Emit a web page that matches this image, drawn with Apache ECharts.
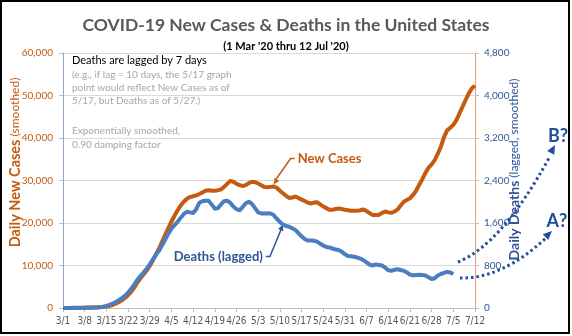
<!DOCTYPE html>
<html><head><meta charset="utf-8">
<script src="https://cdn.jsdelivr.net/npm/echarts@6/dist/echarts.min.js"></script>
<style>html,body{margin:0;padding:0;background:#fff}#c{width:572px;height:336px}</style>
</head><body><div id="c"></div>
<script>
// Day labels 3/1 .. 7/12
const monthDays = [[3, 31], [4, 30], [5, 31], [6, 30], [7, 12]];
const dates = [];
monthDays.forEach(([m, n]) => { for (let d = 1; d <= n; d++) dates.push(m + '/' + d); });

// Daily new cases (exponentially smoothed)
const newCases = [
  10, 15, 20, 30, 40, 55, 70, 90, 110, 140,
  170, 200, 230, 260, 330, 480, 700, 1000, 1350, 1800,
  2350, 3000, 3800, 4800, 6000, 7000, 7900, 8800, 9900, 11200,
  12600, 14000, 15600, 17200, 18800, 20300, 21700, 23000, 24100, 25000,
  25700, 26100, 26300, 26500, 26800, 27200, 27600, 27700, 27600, 27600,
  27700, 27900, 28500, 29200, 29900, 29700, 29200, 28900, 28700, 28900,
  29400, 29700, 29600, 29300, 28900, 28500, 28400, 28500, 28600, 28300,
  27600, 27000, 26400, 25900, 26000, 26200, 25900, 25500, 25200, 24800,
  24600, 24800, 24900, 24400, 23900, 23500, 23100, 23100, 23300, 23400,
  23300, 23100, 23000, 22900, 22900, 22900, 23000, 23200, 22800, 22300,
  21900, 21900, 21900, 22400, 22700, 22500, 22400, 22700, 23200, 24100,
  25000, 25400, 25800, 26600, 27600, 29000, 30300, 31800, 33000, 33800,
  34800, 36300, 38000, 40200, 41800, 42400, 43100, 44200, 45800, 47400,
  49000, 50500, 51700, 52300
];

// Daily deaths, lagged by 7 days (exponentially smoothed)
const deathsLagged = [
  0, 0, 0, 1, 1, 1, 2, 2, 3, 4,
  5, 8, 14, 24, 40, 60, 85, 112, 145, 185,
  230, 290, 360, 440, 530, 600, 670, 740, 820, 910,
  1000, 1080, 1180, 1290, 1400, 1490, 1560, 1620, 1700, 1770,
  1810, 1800, 1790, 1860, 1980, 2010, 2020, 2020, 1950, 1870,
  1880, 1950, 2010, 2020, 1980, 1910, 1860, 1840, 1900, 1970,
  2000, 1960, 1880, 1800, 1780, 1780, 1785, 1780, 1750, 1680,
  1620, 1570, 1545, 1530, 1500, 1470, 1410, 1350, 1300, 1270,
  1270, 1265, 1250, 1210, 1175, 1150, 1140, 1120, 1100, 1090,
  1060, 1010, 980, 975, 965, 950, 930, 900, 860, 815,
  800, 820, 810, 800, 760, 710, 700, 720, 730, 715,
  700, 670, 630, 615, 620, 625, 620, 610, 580, 545,
  560, 610, 640, 660, 680, 670, 640
];

const casesAxis = { min: 0, max: 60000, interval: 10000 };
const deathsAxis = { min: 0, max: 4800, interval: 800 };

const noteLines = [
  '(e.g., if lag = 10 days, the 5/17 graph',
  'point would reflect New Cases as of',
  '5/17, but Deaths as of 5/27.)'
];
const smoothLines = ['Exponentially smoothed,', '0.90 damping factor'];

const FONT = 'Lato, "Noto Sans", sans-serif';
const NARROW = '"Liberation Sans Narrow", "DejaVu Sans Condensed", "Liberation Sans", sans-serif';
const ORANGE = '#C55A11';
const BLUE = '#4A7EBF';
const NAVY = '#2F5597';
const DOT = '#1F4E99';
const fmt = v => v.toLocaleString('en-US');

const chart = echarts.init(document.getElementById('c'), null, { renderer: 'canvas' });

const option = {
  animation: false,
  backgroundColor: '#fff',
  textStyle: { fontFamily: FONT },
  title: [
    { text: 'COVID-19 New Cases & Deaths in the United States', left: 'center', top: 11,
      textStyle: { fontFamily: FONT, fontSize: 17.5, fontWeight: 'bold', color: '#595959' } },
    { text: "(1 Mar '20 thru 12 Jul '20)", left: 'center', top: 36,
      textStyle: { fontFamily: FONT, fontSize: 11, fontWeight: 'bold', color: '#000' } }
  ],
  grid: { left: 63, right: 97, top: 53, bottom: 28, containLabel: false, outerBoundsMode: 'none' },
  xAxis: {
    type: 'category', data: dates, boundaryGap: false,
    axisLine: { lineStyle: { color: '#BFBFBF', width: 1 } },
    axisTick: { show: true, interval: 6, length: 4, lineStyle: { color: '#BFBFBF' } },
    axisLabel: { interval: 6, color: '#595959', fontSize: 10, margin: 8, fontFamily: NARROW, hideOverlap: false },
    splitLine: { show: false }
  },
  yAxis: [
    {
      type: 'value', position: 'left', ...casesAxis,
      name: '{b|Daily New Cases} {n|(smoothed)}',
      nameLocation: 'middle', nameGap: 40, nameRotate: 90, nameMoveOverlap: false,
      nameTextStyle: { padding: [0, 0, 0, 36], rich: {
        b: { fontFamily: FONT, fontSize: 14.5, fontWeight: 'bold', color: ORANGE },
        n: { fontFamily: FONT, fontSize: 12, color: ORANGE } } },
      axisLine: { show: true, lineStyle: { color: '#8EA6CF', width: 1 } },
      axisTick: { show: true, length: 4, lineStyle: { color: '#BFBFBF' } },
      axisLabel: { color: ORANGE, fontSize: 10, margin: 10, formatter: fmt, fontFamily: FONT },
      splitLine: { show: true, lineStyle: { color: '#D9D9D9', width: 1 } }
    },
    {
      type: 'value', position: 'right', ...deathsAxis,
      name: '{b|Daily Deaths} {n|(lagged, smoothed)}',
      nameLocation: 'middle', nameGap: 32, nameRotate: 90, nameMoveOverlap: false,
      nameTextStyle: { padding: [0, 0, 0, 22], rich: {
        b: { fontFamily: FONT, fontSize: 14, fontWeight: 'bold', color: NAVY },
        n: { fontFamily: FONT, fontSize: 12, color: NAVY } } },
      axisLine: { show: true, lineStyle: { color: '#E8A272', width: 1 } },
      axisTick: { show: true, length: 4, lineStyle: { color: '#BFBFBF' } },
      axisLabel: { color: NAVY, fontSize: 10, margin: 9, formatter: fmt, fontFamily: FONT },
      splitLine: { show: false }
    }
  ],
  series: [
    { name: 'New Cases', type: 'line', yAxisIndex: 0, data: newCases, showSymbol: false,
      lineStyle: { color: ORANGE, width: 4, join: 'round' }, itemStyle: { color: ORANGE } },
    { name: 'Deaths (lagged)', type: 'line', yAxisIndex: 1, data: deathsLagged, showSymbol: false,
      lineStyle: { color: BLUE, width: 4, join: 'round' }, itemStyle: { color: BLUE } }
  ]
};
chart.setOption(option);

// Arrowhead triangle at (tx, ty) pointing along angle a
function head(tx, ty, a, len, w, color) {
  const bx = tx - Math.cos(a) * len, by = ty - Math.sin(a) * len;
  const nx = -Math.sin(a) * w, ny = Math.cos(a) * w;
  return { type: 'polygon', shape: { points: [[tx, ty], [bx + nx, by + ny], [bx - nx, by - ny]] },
           style: { fill: color } };
}

// Callout tips sit on the curves
const caseTip = chart.convertToPixel({ xAxisIndex: 0, yAxisIndex: 0 }, [68, newCases[68]]);
const deathTip = chart.convertToPixel({ xAxisIndex: 0, yAxisIndex: 1 }, [71, deathsLagged[71]]);
caseTip[1] -= 2;

const g = [];
// Note box text
g.push({ type: 'text', left: 72, top: 55, style: { text: 'Deaths are lagged by 7 days', font: '11px ' + FONT, fill: '#000' } });
noteLines.forEach((t, i) => g.push({ type: 'text', left: 72, top: 70 + i * 13, style: { text: t, font: '10px ' + FONT, fill: '#A6A6A6' } }));
smoothLines.forEach((t, i) => g.push({ type: 'text', left: 72, top: 126 + i * 14, style: { text: t, font: '10px ' + FONT, fill: '#A6A6A6' } }));

// New Cases callout
const ncL = [caseTip[0] + 17, caseTip[1] - 26];
g.push({ type: 'polyline', shape: { points: [[ncL[0] + 4, ncL[1]], ncL, [caseTip[0] + 1.5, caseTip[1] - 4]] },
         style: { stroke: ORANGE, lineWidth: 1.5, fill: null } });
g.push(head(caseTip[0], caseTip[1], Math.atan2(caseTip[1] - ncL[1], caseTip[0] - ncL[0]), 6, 2.8, ORANGE));
g.push({ type: 'text', x: ncL[0] + 7, y: ncL[1], style: { text: 'New Cases', font: 'bold 13px ' + FONT, fill: ORANGE, verticalAlign: 'middle' } });

// Deaths callout
const dL = [deathTip[0] - 13, deathTip[1] + 32];
g.push({ type: 'polyline', shape: { points: [[dL[0] - 4, dL[1]], dL, [deathTip[0] - 1.5, deathTip[1] + 4]] },
         style: { stroke: NAVY, lineWidth: 1.5, fill: null } });
g.push(head(deathTip[0], deathTip[1], Math.atan2(deathTip[1] - dL[1], deathTip[0] - dL[0]), 6, 2.8, NAVY));
g.push({ type: 'text', x: dL[0] - 7, y: dL[1], style: { text: 'Deaths (lagged)', font: 'bold 13px ' + FONT, fill: NAVY, align: 'right', verticalAlign: 'middle' } });

// Dotted projection scenarios
const scen = [
  { s: [458, 262], c: [502, 244], e: [549, 158], tip: [555, 145], label: 'B?', lp: [558, 136] },
  { s: [460, 278], c: [502, 279], e: [546, 238], tip: [552, 231], label: 'A?', lp: [557, 221] }
];
scen.forEach(o => {
  g.push({ type: 'bezierCurve', shape: { x1: o.s[0], y1: o.s[1], x2: o.e[0], y2: o.e[1], cpx1: o.c[0], cpy1: o.c[1] },
           style: { stroke: DOT, lineWidth: 3, lineDash: [2.5, 3], fill: null } });
  g.push(head(o.tip[0], o.tip[1], Math.atan2(o.tip[1] - o.c[1], o.tip[0] - o.c[0]), 9, 4, DOT));
  g.push({ type: 'text', x: o.lp[0], y: o.lp[1], style: { text: o.label, font: 'bold 18px ' + FONT, fill: DOT, align: 'center', verticalAlign: 'middle' } });
});

// Frame
g.push({ type: 'rect', shape: { x: 1, y: 1, width: 568, height: 332 }, style: { stroke: '#000', lineWidth: 2, fill: null }, z: 100 });

chart.setOption({ graphic: g });
</script>
</body></html>
